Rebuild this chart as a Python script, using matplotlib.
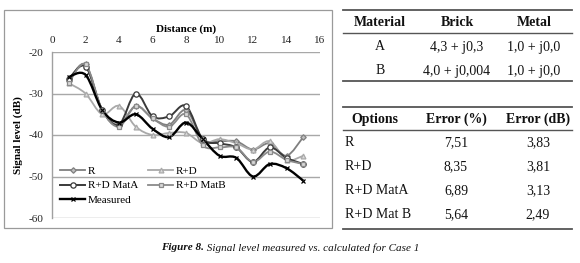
import numpy as np
import matplotlib
matplotlib.use("Agg")
import matplotlib.pyplot as plt
from matplotlib.path import Path
from matplotlib.patches import PathPatch, Rectangle
from matplotlib.lines import Line2D

# ---------------- data ----------------
distance = [1, 2, 3, 4, 5, 6, 7, 8, 9, 10, 11, 12, 13, 14, 15]
sig_R = [-27, -23, -34, -37.5, -33, -36, -37.5, -34, -41, -41.5, -41.5, -43.5, -42, -45, -40.5]
sig_RD = [-27.5, -30, -35, -33, -38, -40, -39.5, -39.5, -42, -41, -42, -43.5, -41.5, -46, -45]
sig_RD_MatA = [-26.5, -23.5, -34, -37.5, -30, -35.5, -35.5, -33, -41, -42, -43, -46.5, -43, -45.5, -47]
sig_RD_MatB = [-27.5, -23, -34, -38, -33, -36, -38, -35, -42.5, -43, -43, -46.5, -44, -46, -47]
sig_meas = [-26, -25.5, -34, -37, -35, -38.5, -40.5, -37, -41, -45, -45.5, -50, -47, -48, -51]

series_names = ["R", "R+D", "R+D MatA", "R+D MatB", "Measured"]
x_ticks = [0, 2, 4, 6, 8, 10, 12, 14, 16]
y_ticks = [-60, -50, -40, -30, -20]

mat_header = ["Material", "Brick", "Metal"]
mat_rows = [["A", "4,3 + j0,3", "1,0 + j0,0"],
            ["B", "4,0 + j0,004", "1,0 + j0,0"]]
err_header = ["Options", "Error (%)", "Error (dB)"]
err_rows = [["R", "7,51", "3,83"],
            ["R+D", "8,35", "3,81"],
            ["R+D MatA", "6,89", "3,13"],
            ["R+D Mat B", "5,64", "2,49"]]

caption_bold = "Figure 8."
caption_rest = " Signal level measured vs. calculated for Case 1"

# ---------------- styling ----------------
plt.rcParams['font.family'] = ['Liberation Serif', 'DejaVu Serif']
plt.rcParams['axes.unicode_minus'] = False
W, H = 580, 263
fig = plt.figure(figsize=(W / 100, H / 100), dpi=100)

def fx(px):
    return px / W

def fy(py):
    return 1 - py / H

# chart border
fig.patches.append(Rectangle((fx(4), fy(228)), fx(332) - fx(4), fy(10) - fy(228),
                             transform=fig.transFigure, fill=False,
                             edgecolor='#9a9a9a', linewidth=0.9))

ax = fig.add_axes([fx(52), fy(218), fx(320) - fx(52), fy(52) - fy(218)])
ax.set_xlim(0, 16)
ax.set_ylim(-60, -20)
ax.set_xticks(x_ticks)
ax.set_yticks(y_ticks)
ax.xaxis.tick_top()
ax.xaxis.set_label_position('top')
ax.tick_params(length=0, labelsize=8, colors='#222222')
ax.tick_params(axis='x', pad=5)
ax.tick_params(axis='y', pad=6)
ax.set_xlabel("Distance (m)", fontsize=8, fontweight='bold', labelpad=3)
ax.set_ylabel("Signal level (dB)", fontsize=8, fontweight='bold', labelpad=4)
for s in ['top', 'right', 'bottom']:
    ax.spines[s].set_visible(False)
ax.spines['left'].set_color('#a0a0a0')
ax.spines['left'].set_linewidth(1.0)
ax.grid(axis='y', color='#a8a8a8', linewidth=1.0)
ax.set_axisbelow(True)


def smooth_path(xs, ys):
    pts = np.column_stack([xs, ys]).astype(float)
    n = len(pts)
    verts = [pts[0]]
    codes = [Path.MOVETO]
    for i in range(n - 1):
        p0 = pts[i - 1] if i > 0 else pts[i]
        p1 = pts[i]
        p2 = pts[i + 1]
        p3 = pts[i + 2] if i + 2 < n else pts[i + 1]
        c1 = p1 + (p2 - p0) / 6.0
        c2 = p2 - (p3 - p1) / 6.0
        verts += [c1, c2, p2]
        codes += [Path.CURVE4] * 3
    return Path(verts, codes)


styles = [
    (sig_R, '#7f7f7f', 'D', 2.8, 1.3, '#bfbfbf'),
    (sig_RD, '#a9a9a9', '^', 3.5, 1.3, '#d9d9d9'),
    (sig_RD_MatA, '#3a3a3a', 'o', 3.8, 1.4, 'white'),
    (sig_RD_MatB, '#8a8a8a', 's', 3.5, 1.3, '#d9d9d9'),
    (sig_meas, '#000000', 'x', 3.5, 1.7, 'none'),
]

handles = []
for (vals, col, mk, ms, lw, mfc), name in zip(styles, series_names):
    patch = PathPatch(smooth_path(distance, vals), facecolor='none',
                      edgecolor=col, linewidth=lw, zorder=3)
    ax.add_patch(patch)
    ax.plot(distance, vals, linestyle='none', marker=mk, markersize=ms,
            markerfacecolor=mfc, markeredgecolor=col, markeredgewidth=0.9, zorder=4)
    handles.append(Line2D([], [], color=col, linewidth=lw, marker=mk, markersize=ms,
                          markerfacecolor=mfc, markeredgecolor=col,
                          markeredgewidth=0.9, label=name))

# row-wise ordering in a 2-column legend
order = [0, 2, 4, 1, 3]
leg = ax.legend(handles=[handles[i] for i in order], ncol=2, loc='lower left',
                frameon=False, fontsize=8, handlelength=2.3, handletextpad=0.2,
                columnspacing=0.9, labelspacing=0.45,
                bbox_to_anchor=(0.0, 0.03), borderaxespad=0.3)

# ---------------- tables ----------------
line_col = '#555555'
tx0, tx1 = fx(343), fx(572)


def hline(py, lw=1.3):
    fig.add_artist(Line2D([tx0, tx1], [fy(py), fy(py)], transform=fig.transFigure,
                          color=line_col, linewidth=lw))

fs_t = 10
# table 1
hline(10)
hline(33, 1.0)
hline(81)
t1_cols = [380, 457, 534]
for xc, txt in zip(t1_cols, mat_header):
    fig.text(fx(xc), fy(22), txt, ha='center', va='center', fontsize=fs_t,
             fontweight='bold', color='#111111')
for ry, row in zip([47, 71], mat_rows):
    for xc, txt in zip(t1_cols, row):
        fig.text(fx(xc), fy(ry), txt, ha='center', va='center', fontsize=fs_t,
                 color='#111111')

# table 2
hline(107)
hline(130, 1.0)
hline(229)
t2_cols = [375, 456, 538]
for xc, txt in zip(t2_cols, err_header):
    fig.text(fx(xc), fy(119), txt, ha='center', va='center', fontsize=fs_t,
             fontweight='bold', color='#111111')
for ry, row in zip([143, 167, 191, 215], err_rows):
    fig.text(fx(345), fy(ry), row[0], ha='left', va='center', fontsize=fs_t,
             color='#111111')
    for xc, txt in zip(t2_cols[1:], row[1:]):
        fig.text(fx(xc), fy(ry), txt, ha='center', va='center', fontsize=fs_t,
                 color='#111111')

# ---------------- caption ----------------
t1 = fig.text(fx(161), fy(248), caption_bold, ha='left', va='center', fontsize=8,
              fontweight='bold', fontstyle='italic', color='#111111')
ax.annotate(caption_rest, xy=(1, 0.5), xycoords=t1, ha='left', va='center',
            fontsize=8, fontstyle='italic', color='#111111', annotation_clip=False)

fig.savefig("out.png", dpi=100)
